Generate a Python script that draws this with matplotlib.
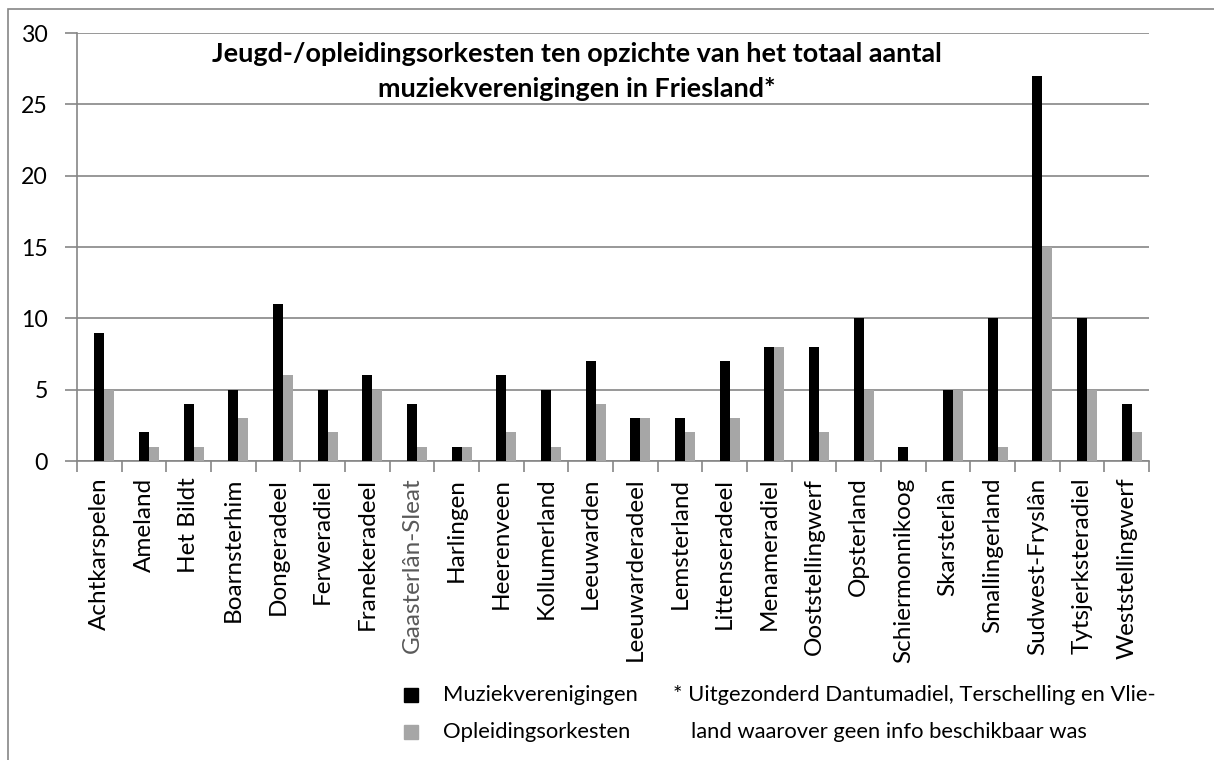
import matplotlib.pyplot as plt
import numpy as np
from matplotlib.patches import Rectangle

gemeenten = ["Achtkarspelen", "Ameland", "Het Bildt", "Boarnsterhim", "Dongeradeel",
             "Ferweradiel", "Franekeradeel", "Gaasterlân-Sleat", "Harlingen", "Heerenveen",
             "Kollumerland", "Leeuwarden", "Leeuwarderadeel", "Lemsterland", "Littenseradeel",
             "Menameradiel", "Ooststellingwerf", "Opsterland", "Schiermonnikoog", "Skarsterlân",
             "Smallingerland", "Sudwest-Fryslân", "Tytsjerksteradiel", "Weststellingwerf"]
muziekverenigingen = [9, 2, 4, 5, 11, 5, 6, 4, 1, 6, 5, 7, 3, 3, 7, 8, 8, 10, 1, 5, 10, 27, 10, 4]
opleidingsorkesten = [5, 1, 1, 3, 6, 2, 5, 1, 1, 2, 1, 4, 3, 2, 3, 8, 2, 5, 0, 5, 1, 15, 5, 2]

plt.rcParams['font.family'] = ['Lato', 'DejaVu Sans']
grid_kleur = '#868686'
W, H = 1214, 760

fig = plt.figure(figsize=(W / 100, H / 100), dpi=100)
renderer = fig.canvas.get_renderer()


def pas_grootte(tekst, doel_px, gewicht='normal'):
    # lettergrootte zoeken zodat de tekst doel_px breed wordt
    t = fig.text(0, 0, tekst, fontsize=10, fontweight=gewicht)
    breedte = t.get_window_extent(renderer=renderer).width
    t.remove()
    return 10 * doel_px / breedte


fs_as = pas_grootte("Achtkarspelen", 153)
fs_titel = pas_grootte("Jeugd-/opleidingsorkesten ten opzichte van het totaal aantal", 731, 'bold')
fs_leg = pas_grootte("* Uitgezonderd Dantumadiel, Terschelling en Vlie-", 482)

ax = fig.add_axes([77 / W, 1 - 461 / H, (1149 - 77) / W, (461 - 33) / H])

x = np.arange(len(gemeenten))
w = 0.225
ax.bar(x, muziekverenigingen, w, color='black', zorder=3)
ax.bar(x + w, opleidingsorkesten, w, color='#a6a6a6', zorder=3)

ax.set_xlim(-0.5, len(gemeenten) - 0.5)
ax.set_ylim(0, 30)
ax.set_yticks(range(0, 31, 5))
ax.yaxis.grid(True, color=grid_kleur, linewidth=1.2, zorder=0)
ax.set_axisbelow(True)

ax.set_xticks(np.arange(len(gemeenten) + 1) - 0.5)
ax.set_xticklabels([])
ax.set_xticks(x, minor=True)
ax.set_xticklabels(gemeenten, minor=True, rotation=90, fontsize=fs_as)
ax.tick_params(axis='x', which='major', length=8, color=grid_kleur, width=1.2)
ax.tick_params(axis='x', which='minor', length=0, pad=12)
ax.tick_params(axis='y', length=9, color=grid_kleur, width=1.2, labelsize=fs_as * 0.95, pad=12)
ax.get_xticklabels(minor=True)[7].set_color('#595959')

for s in ['top', 'right']:
    ax.spines[s].set_visible(False)
for s in ['left', 'bottom']:
    ax.spines[s].set_color(grid_kleur)
    ax.spines[s].set_linewidth(1.2)

fig.text(577 / W, 1 - 54 / H, "Jeugd-/opleidingsorkesten ten opzichte van het totaal aantal",
         ha='center', va='center', fontsize=fs_titel, fontweight='bold')
fig.text(577 / W, 1 - 89 / H, "muziekverenigingen in Friesland*",
         ha='center', va='center', fontsize=fs_titel, fontweight='bold')

# legenda
fig.patches.append(Rectangle((404 / W, 1 - 702 / H), 14 / W, 14 / H,
                             transform=fig.transFigure, color='black'))
fig.patches.append(Rectangle((404 / W, 1 - 739 / H), 14 / W, 14 / H,
                             transform=fig.transFigure, color='#a6a6a6'))
fig.text(443 / W, 1 - 695 / H, "Muziekverenigingen", va='center', fontsize=fs_leg)
fig.text(443 / W, 1 - 732 / H, "Opleidingsorkesten", va='center', fontsize=fs_leg)
fig.text(673 / W, 1 - 695 / H, "* Uitgezonderd Dantumadiel, Terschelling en Vlie-",
         va='center', fontsize=fs_leg)
fig.text(691 / W, 1 - 732 / H, "land waarover geen info beschikbaar was",
         va='center', fontsize=fs_leg)

# kader om de grafiek (rechts en onder vallen buiten beeld)
fig.patches.append(Rectangle((8 / W, -0.05), 1.1, 1.05 - 9 / H,
                             transform=fig.transFigure, fill=False,
                             edgecolor=grid_kleur, linewidth=1.2))

fig.savefig('out.png', dpi=100)
